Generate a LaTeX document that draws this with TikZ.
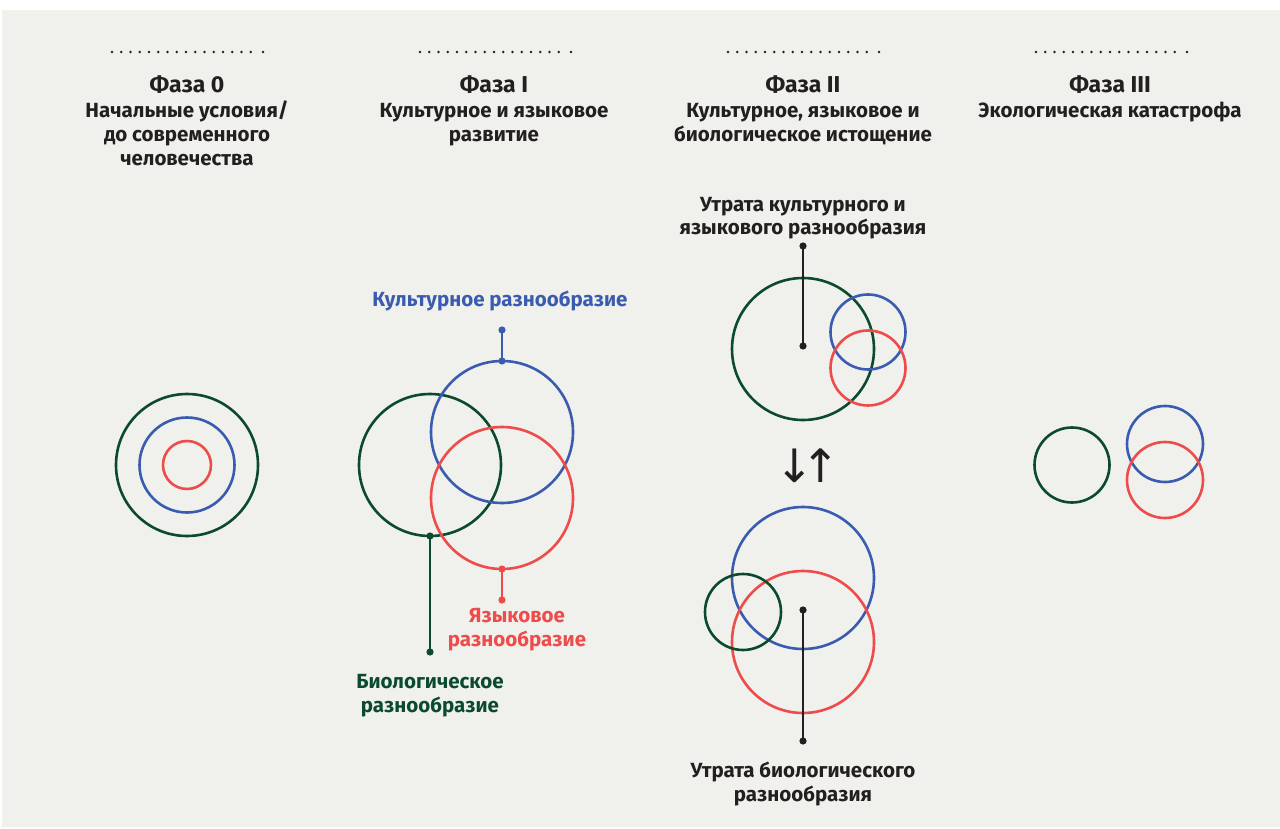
\documentclass[tikz,border=0pt]{standalone}
\usepackage{fontspec}
\setmainfont{Fira Sans}
\newfontfamily\symfont{DejaVu Sans}
\usetikzlibrary{calc}

\definecolor{bg}{HTML}{F0F0EC}
\definecolor{biogreen}{HTML}{0B4A2C}
\definecolor{cultblue}{HTML}{3A5CB0}
\definecolor{langred}{HTML}{EE4B4B}
\definecolor{ink}{HTML}{231F20}

\tikzset{
  ring/.style={circle, draw=#1, line width=2.6pt, inner sep=0pt, outer sep=0pt},
  pin/.style={line width=2pt},
  title/.style={font=\bfseries\fontsize{23}{24}\selectfont, text=ink, anchor=base},
  subtitle/.style={font=\bfseries\fontsize{20.5}{24}\selectfont, text=ink, align=center, anchor=base},
  lbl/.style={font=\bfseries\fontsize{20.5}{23.5}\selectfont, text=#1, align=center, anchor=base},
}

\begin{document}
\begin{tikzpicture}[x=1pt, y=-1pt]
    \useasboundingbox (0,0) rectangle (1280,829);
    \fill[white] (0,0) rectangle (1280,829);
    \fill[bg] (2,10) rectangle (1280,827);

    % dotted rules over the headers
    \foreach \cx in {187,495,803,1111} {
        \foreach \k in {0,...,15}
            \fill[ink] (\cx-75+9.25*\k,52) circle (1.3pt);
        \fill[ink] (\cx+76,52) circle (1.3pt);
    }

    %0
    \node[title] (t0) at (187,93) {Фаза 0};
    \node[subtitle] (s0) at (187,166) {Начальные условия/\\до современного\\человечества};

    \node[ring=biogreen, minimum size=142pt] (bio0) at (187,465) {};
    \node[ring=cultblue, minimum size=95pt] (cult0) at (187,465) {};
    \node[ring=langred, minimum size=48pt] (lang0) at (187,465) {};

    %1
    \node[title] (t1) at (494,93) {Фаза I};
    \node[subtitle] (s1) at (494,142) {Культурное и языковое\\развитие};

    \node[ring=biogreen, minimum size=142pt] (bio1) at (430,465) {};
    \node[ring=cultblue, minimum size=142pt] (cult1) at (502,432) {};
    \node[ring=langred, minimum size=142pt] (lang1) at (502,498) {};

    \coordinate (cult1end) at (502,330);
    \coordinate (lang1end) at (502,600);
    \coordinate (bio1end) at (430,652);

    \draw[cultblue, pin] (cult1.north) -- (cult1end);
    \draw[langred, pin] (lang1.south) -- (lang1end);
    \draw[biogreen, pin] (bio1.south) -- (bio1end);

    \fill[cultblue] (cult1.north) circle (3.6pt);
    \fill[cultblue] (cult1end) circle (3.6pt);
    \fill[langred] (lang1.south) circle (3.6pt);
    \fill[langred] (lang1end) circle (3.6pt);
    \fill[biogreen] (bio1.south) circle (3.6pt);
    \fill[biogreen] (bio1end) circle (3.6pt);

    \node[lbl=cultblue] (cult1lbl) at (500,306) {Культурное разнообразие};
    \node[lbl=langred] (lang1lbl) at (517,646) {Языковое\\разнообразие};
    \node[lbl=biogreen] (bio1lbl) at (430,712) {Биологическое\\разнообразие};

    %2
    \node[title] (t2) at (803,93) {Фаза II};
    \node[subtitle] (s2) at (803,142) {Культурное, языковое и\\биологическое истощение};

    \node[ring=biogreen, minimum size=142pt] (bio2) at (803,349) {};
    \node[ring=cultblue, minimum size=75pt] (cult2) at (868,332) {};
    \node[ring=langred, minimum size=75pt] (lang2) at (868,368) {};

    \coordinate (bio2dot) at ($(bio2.center)+(0,-3)$);
    \coordinate (loss2end) at (803,246);
    \draw[ink, pin] (bio2dot) -- (loss2end);
    \fill[ink] (bio2dot) circle (3.6pt);
    \fill[ink] (loss2end) circle (3.6pt);
    \node[lbl=ink] (loss2lbl) at (803,235) {Утрата культурного и\\языкового разнообразия};

    \node[font=\symfont\fontsize{46}{46}\selectfont, text=ink] (swap) at (808,466) {↓\kern-13pt↑};

    \node[ring=cultblue, minimum size=142pt] (cult3) at (803,578) {};
    \node[ring=langred, minimum size=142pt] (lang3) at (803,642) {};
    \node[ring=biogreen, minimum size=76pt] (bio3) at (743,612) {};

    \coordinate (mid3) at ($(cult3.center)!0.5!(lang3.center)$);
    \coordinate (loss3end) at (803,741);
    \draw[ink, pin] (mid3) -- (loss3end);
    \fill[ink] (mid3) circle (3.6pt);
    \fill[ink] (loss3end) circle (3.6pt);
    \node[lbl=ink] (loss3lbl) at (803,801) {Утрата биологического\\разнообразия};

    %3
    \node[title] (t3) at (1110,93) {Фаза III};
    \node[subtitle] (s3) at (1110,118) {Экологическая катастрофа};

    \node[ring=biogreen, minimum size=75pt] (bio4) at (1072,465) {};
    \node[ring=cultblue, minimum size=76pt] (cult4) at (1165,444) {};
    \node[ring=langred, minimum size=76pt] (lang4) at (1165,480) {};

\end{tikzpicture}
\end{document}
